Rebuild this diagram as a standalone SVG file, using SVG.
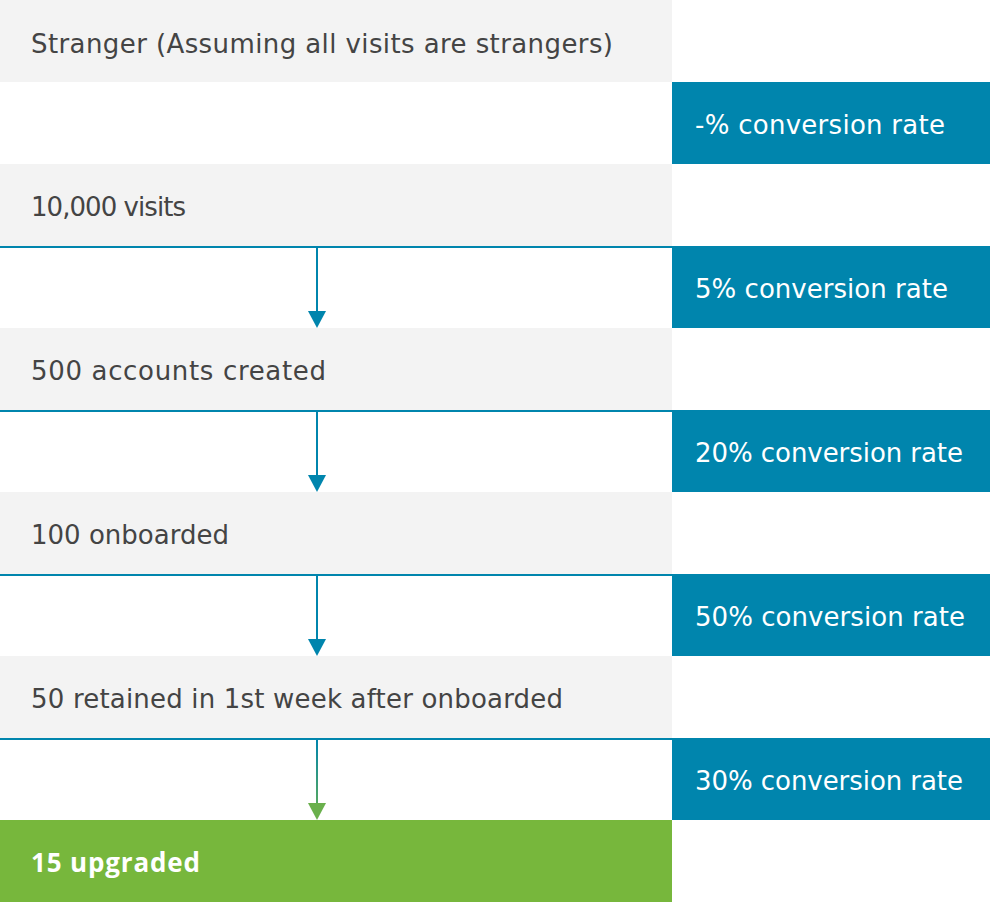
<svg xmlns="http://www.w3.org/2000/svg" width="990" height="902" viewBox="0 0 990 902">
<defs>
<style>
.stage{fill:#f3f3f3}
.rate{fill:#0085ad}
.final{fill:#77b73c}
.t{font-family:"DejaVu Sans","Open Sans",sans-serif;font-size:26px;fill:#444444}
.tr{font-family:"DejaVu Sans","Open Sans",sans-serif;font-size:26px;fill:#ffffff}
.tb{font-family:"Open Sans","DejaVu Sans",sans-serif;font-size:26px;font-weight:bold;fill:#ffffff}
.sep{stroke:#0085ad;stroke-width:2}
.ar{stroke:#0085ad;stroke-width:2;fill:none}
.ah{fill:#0085ad}
</style>
<linearGradient id="g" x1="0" y1="740" x2="0" y2="820" gradientUnits="userSpaceOnUse">
<stop offset="0" stop-color="#0085ad"/>
<stop offset="1" stop-color="#6ab04c"/>
</linearGradient>
</defs>
<rect width="990" height="902" fill="#ffffff"/>
<g id="stranger"><rect class="stage" x="0" y="0" width="672" height="82"/><text class="t" x="31" y="53" textLength="582" lengthAdjust="spacing">Stranger (Assuming all visits are strangers)</text></g>
<g id="rate0"><rect class="rate" x="672" y="82" width="318" height="82"/><text class="tr" x="695" y="134" textLength="250" lengthAdjust="spacing">-% conversion rate</text></g>
<g id="visits"><rect class="stage" x="0" y="164" width="672" height="82"/><text class="t" x="31" y="216" textLength="155" lengthAdjust="spacing">10,000 visits</text></g>
<g id="rate1"><rect class="rate" x="672" y="246" width="318" height="82"/><text class="tr" x="695" y="298" textLength="253" lengthAdjust="spacing">5% conversion rate</text></g>
<g id="accounts"><rect class="stage" x="0" y="328" width="672" height="82"/><text class="t" x="31" y="380" textLength="295" lengthAdjust="spacing">500 accounts created</text></g>
<g id="rate2"><rect class="rate" x="672" y="410" width="318" height="82"/><text class="tr" x="695" y="462" textLength="268" lengthAdjust="spacing">20% conversion rate</text></g>
<g id="onboarded"><rect class="stage" x="0" y="492" width="672" height="82"/><text class="t" x="31" y="544" textLength="198" lengthAdjust="spacing">100 onboarded</text></g>
<g id="rate3"><rect class="rate" x="672" y="574" width="318" height="82"/><text class="tr" x="695" y="626" textLength="270" lengthAdjust="spacing">50% conversion rate</text></g>
<g id="retained"><rect class="stage" x="0" y="656" width="672" height="82"/><text class="t" x="31" y="708" textLength="532" lengthAdjust="spacing">50 retained in 1st week after onboarded</text></g>
<g id="rate4"><rect class="rate" x="672" y="738" width="318" height="82"/><text class="tr" x="695" y="790" textLength="268" lengthAdjust="spacing">30% conversion rate</text></g>
<g id="upgraded"><rect class="final" x="0" y="820" width="672" height="82"/><text class="tb" x="31" y="872" textLength="169" lengthAdjust="spacing">15 upgraded</text></g>
<g id="connectors">
<line class="sep" x1="0" y1="247" x2="672" y2="247"/>
<line class="ar" x1="317" y1="248" x2="317" y2="312"/>
<polygon class="ah" points="308,311 326,311 317,328"/>
<line class="sep" x1="0" y1="411" x2="672" y2="411"/>
<line class="ar" x1="317" y1="412" x2="317" y2="476"/>
<polygon class="ah" points="308,475 326,475 317,492"/>
<line class="sep" x1="0" y1="575" x2="672" y2="575"/>
<line class="ar" x1="317" y1="576" x2="317" y2="640"/>
<polygon class="ah" points="308,639 326,639 317,656"/>
<line class="sep" x1="0" y1="739" x2="672" y2="739"/>
<rect x="316" y="740" width="2" height="64" fill="url(#g)"/>
<polygon fill="#6ab04c" points="308,803 326,803 317,820"/>
</g>
</svg>
